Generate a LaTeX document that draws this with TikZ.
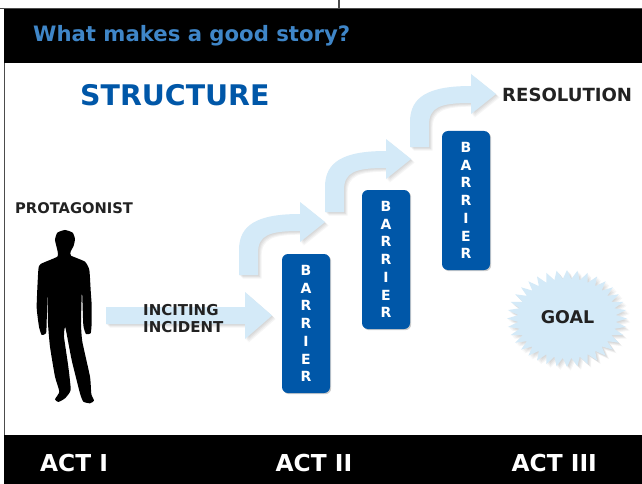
\documentclass[tikz,border=0pt]{standalone}
\usepackage{fontspec}
\setmainfont{DejaVu Sans}
\usetikzlibrary{shadows}
\definecolor{barblue}{HTML}{0057A8}
\definecolor{titleblue}{HTML}{3F86C8}
\definecolor{paleblue}{HTML}{D4EAF8}
\definecolor{ink}{HTML}{222222}
\newcommand{\softfill}[1]{%
  \foreach \s in {1,2,3,4}{\fill[black,opacity=.04,shift={(\s*.9,\s*.9)}] #1;}
  \fill[paleblue] #1;}
\newcommand{\curvedpath}{(0,0) -- (0,-25) .. controls (0,-50) and (18,-61) .. (61,-61) -- (61,-73) -- (86,-53) -- (61,-33) -- (61,-44) .. controls (30,-44) and (19,-40) .. (19,-22) -- (19,0) -- cycle}
\tikzset{
  every node/.style={font=\bfseries,inner sep=0pt},
  barrier/.style={fill=barblue,rounded corners=6pt,minimum width=48pt,minimum height=139pt,inner sep=0pt,
    text=white,align=center,font=\bfseries\fontsize{14}{17.7}\selectfont,
    drop shadow={shadow xshift=1.2pt,shadow yshift=-1.2pt,opacity=.2,fill=black}},
  band/.style={fill=black},
  frameline/.style={draw=black!70,line width=1.1pt},
  acttext/.style={text=white,anchor=west,font=\bfseries\fontsize{23.3}{26}\selectfont},
  labeltext/.style={text=ink,anchor=west,font=\bfseries\fontsize{14.7}{16}\selectfont},
  smalltext/.style={text=ink,align=left,anchor=west,font=\bfseries\fontsize{15}{17}\selectfont}
}
\begin{document}
\begin{tikzpicture}[x=1pt,y=-1pt]
\useasboundingbox (0,0) rectangle (642,484);
\fill[white] (0,0) rectangle (642,484);
% frame
\draw[frameline] (0,8.5) -- (642,8.5);
\draw[frameline] (339,0) -- (339,9);
\draw[frameline] (4.5,9) -- (4.5,435);
\fill[band] (4,9) rectangle (642,63);
\fill[band] (4,435) rectangle (642,484);
\node[anchor=west,text=titleblue,font=\bfseries\fontsize{21.2}{24}\selectfont] (title) at (33,36) {What makes a good story?};
\node[anchor=west,text=barblue,font=\bfseries\fontsize{28.4}{34}\selectfont] (structure) at (80,95) {STRUCTURE};
\node[labeltext] (protagonist) at (15,208) {PROTAGONIST};
\node[labeltext,font=\bfseries\fontsize{18.1}{20}\selectfont] (resolution) at (502,95) {RESOLUTION};
% silhouette
\begin{scope}[shift={(0,190)},x=.3333pt,y=-.3333pt]
\fill[black] plot[smooth cycle,tension=.3] coordinates {
 (195,120) (218,128) (225,147) (221,167) (212,185) (213,197) (255,215) (268,240) (272,300) (275,345) (275,400) (272,430) (258,432) (250,405) (246,300) (243,400) (247,455) (270,560) (274,612) (282,632) (270,640) (250,635) (240,610) (215,510) (196,412) (192,440) (205,530) (212,600) (195,625) (175,636) (165,628) (178,605) (165,560) (150,470) (144,400) (142,300) (140,400) (138,430) (125,435) (117,410) (110,350) (115,240) (122,222) (172,200) (172,180) (165,150) (172,128)};
\end{scope}
% straight arrow
\softfill{(106,307) -- (245,307) -- (245,292) -- (272,315.5) -- (245,339) -- (245,324) -- (106,324) -- cycle}
\node[smalltext] (inciting) at (143,318.5) {INCITING\\INCIDENT};
% curved arrows
\begin{scope}[shift={(239,275)}]\softfill{\curvedpath}\end{scope}
\begin{scope}[shift={(325,212)}]\softfill{\curvedpath}\end{scope}
\begin{scope}[shift={(410,147)}]\softfill{\curvedpath}\end{scope}
% barriers
\node[barrier] (b1) at (306,323.5) {B\\A\\R\\R\\I\\E\\R};
\node[barrier] (b2) at (386,259.5) {B\\A\\R\\R\\I\\E\\R};
\node[barrier] (b3) at (466,200.5) {B\\A\\R\\R\\I\\E\\R};
% goal
\softfill{plot[domain=0:71,samples=72] ({567+(60-11*mod(\x,2))*cos(\x*5)},{318.5+(48.5-9*mod(\x,2))*sin(\x*5)}) -- cycle}
\node[text=ink,font=\bfseries\fontsize{17.5}{20}\selectfont] (goal) at (567.5,317) {GOAL};
% acts
\node[acttext] (act1) at (40,463.5) {ACT I};
\node[acttext] (act2) at (275.5,463.5) {ACT II};
\node[acttext] (act3) at (511.5,463.5) {ACT III};
\end{tikzpicture}
\end{document}
